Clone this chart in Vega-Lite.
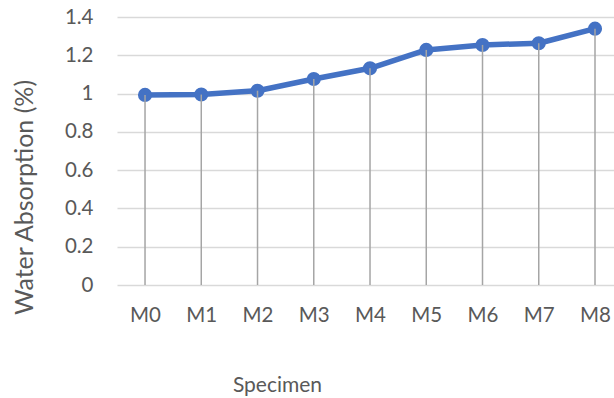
{
  "$schema": "https://vega.github.io/schema/vega-lite/v6.json",
  "autosize": "none",
  "width": 497,
  "height": 268,
  "padding": {"left": 117, "top": 17, "right": 0, "bottom": 113},
  "background": "white",
  "config": {
    "view": {"stroke": null},
    "font": "Lato",
    "axis": {
      "labelFont": "Lato",
      "titleFont": "Lato",
      "labelColor": "#595959",
      "titleColor": "#595959",
      "labelFontSize": 20.5,
      "titleFontSize": 21,
      "titleFontWeight": "normal",
      "ticks": false,
      "domain": false
    }
  },
  "data": {
    "values": [
      {"specimen": "M0", "absorption": 0.993},
      {"specimen": "M1", "absorption": 0.995},
      {"specimen": "M2", "absorption": 1.015},
      {"specimen": "M3", "absorption": 1.076},
      {"specimen": "M4", "absorption": 1.132},
      {"specimen": "M5", "absorption": 1.228},
      {"specimen": "M6", "absorption": 1.254},
      {"specimen": "M7", "absorption": 1.263},
      {"specimen": "M8", "absorption": 1.339}
    ]
  },
  "encoding": {
    "x": {
      "field": "specimen",
      "type": "ordinal",
      "sort": null,
      "scale": {"type": "point", "padding": 0.418, "align": 0.596},
      "axis": {
        "title": "Specimen",
        "labelAngle": 0,
        "labelPadding": 30,
        "labelBaseline": "middle",
        "grid": false,
        "titleX": 160,
        "titleY": 100,
        "titleBaseline": "middle",
        "titleAnchor": null
      }
    },
    "y": {
      "field": "absorption",
      "type": "quantitative",
      "scale": {"domain": [0, 1.4], "nice": false},
      "axis": {
        "title": "Water Absorption (%)",
        "values": [0, 0.2, 0.4, 0.6, 0.8, 1, 1.2, 1.4],
        "labelExpr": "format(datum.value, '~g')",
        "labelPadding": 24,
        "grid": true,
        "gridColor": "#D9D9D9",
        "gridWidth": 1.3,
        "titleFontSize": 25,
        "titleX": -93,
        "titleY": 180,
        "titleAlign": "center",
        "titleBaseline": "middle",
        "titleAngle": -90
      }
    }
  },
  "layer": [
    {
      "mark": {"type": "line", "color": "#4472C4", "strokeWidth": 5.5, "strokeJoin": "round", "strokeCap": "round"}
    },
    {
      "mark": {"type": "point", "filled": true, "shape": "circle", "color": "#4472C4", "size": 200, "opacity": 1}
    },
    {
      "mark": {"type": "rule", "color": "#A5A5A5", "strokeWidth": 1.5},
      "encoding": {"y2": {"datum": 0}}
    }
  ]
}
